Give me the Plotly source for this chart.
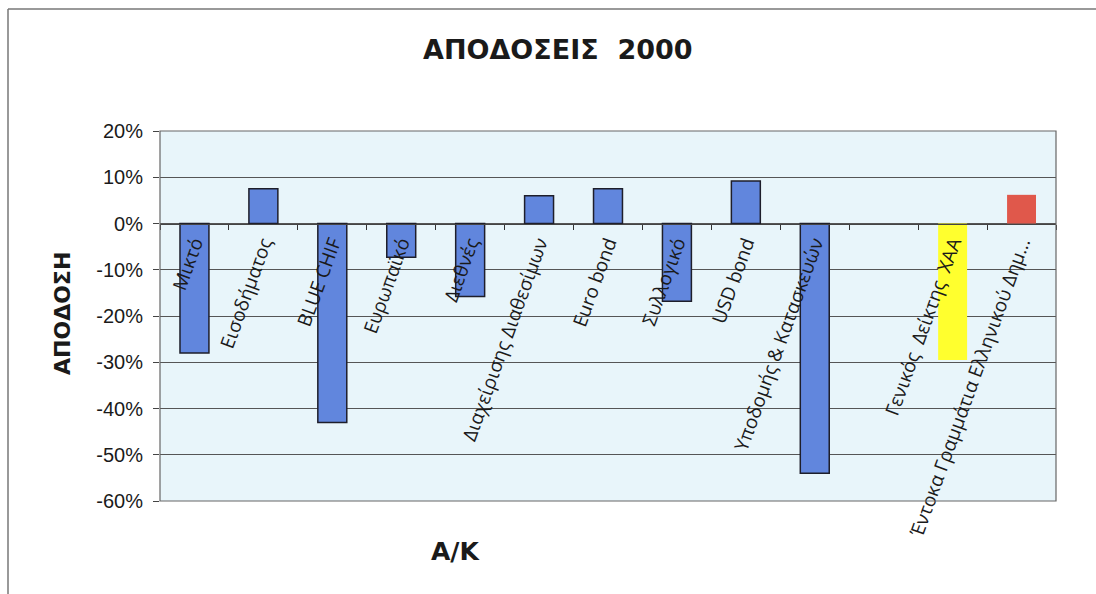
import plotly.graph_objects as go

NB = "\u00a0"
categories = [
    "Μικτό", "Εισοδήματος", "BLUE CHIF", "Ευρωπαϊκό", "Διεθνές",
    "Διαχείρισης Διαθεσίμων", "Euro bond", "Συλλογικό", "USD bond",
    "Υποδομής & Κατασκευών", " ", "Γενικός" + NB + NB + "Δείκτης" + NB + NB + "ΧΑΑ",
    "Έντοκα Γραμμάτια Ελληνικού Δημ...",
]
returns_pct = [-28, 7.5, -43, -7.3, -15.8, 6, 7.5, -16.8, 9.2, -54, None, -29.5, 6.2]
bar_colors = ["#6186dd"] * 11 + ["#ffff2e", "#e0584b"]
outline_widths = [1.5] * 11 + [0, 0]

y_tickvals = [-60, -50, -40, -30, -20, -10, 0, 10, 20]
y_ticktext = ["-60%", "-50%", "-40%", "-30%", "-20%", "-10%", "0%", "10%", "20%"]

fig = go.Figure()
fig.add_trace(go.Bar(
    x=categories, y=returns_pct, width=0.42,
    marker=dict(color=bar_colors, line=dict(color="#1e1e2a", width=outline_widths)),
    showlegend=False, hoverinfo="x+y",
))

ymin, ymax = -60, 20
zero_pos = (0 - ymin) / (ymax - ymin)

fig.update_layout(
    width=1096, height=594,
    margin=dict(l=160, r=40, t=131, b=93, autoexpand=False),
    paper_bgcolor="white",
    plot_bgcolor="#e8f5fa",
    xaxis=dict(
        type="category", categoryorder="array", categoryarray=categories,
        anchor="free", position=zero_pos,
        tickson="boundaries", ticks="outside", ticklen=5, tickcolor="#333",
        tickangle=-70, tickfont=dict(family="Open Sans", size=19, color="#1a1a1a"),
        showline=True, linecolor="#444", linewidth=1,
        showgrid=False, automargin=False,
    ),
    yaxis=dict(
        range=[ymin, ymax], tickvals=y_tickvals, ticktext=y_ticktext,
        ticks="outside", ticklen=6, tickcolor="#444",
        tickfont=dict(family="Liberation Sans", size=20, color="#1a1a1a"),
        showgrid=True, gridcolor="#555555", gridwidth=1.3,
        zeroline=False, showline=False, automargin=False,
        ticklabelstandoff=6,
    ),
    shapes=[
        dict(type="rect", xref="paper", yref="paper", x0=0, x1=1, y0=0, y1=1,
             line=dict(color="#666", width=1.2), layer="above"),
        dict(type="line", xref="paper", yref="paper", x0=(8 - 160) / 896, x1=(1096 - 160) / 896,
             y0=(501 - 9) / 370, y1=(501 - 9) / 370, line=dict(color="#777", width=1.5)),
        dict(type="line", xref="paper", yref="paper", x0=(8 - 160) / 896, x1=(8 - 160) / 896,
             y0=(501 - 9) / 370, y1=(501 - 594) / 370, line=dict(color="#777", width=1.5)),
    ],
    annotations=[
        dict(text="<b>ΑΠΟΔΟΣΕΙΣ" + NB + NB + "2000</b>", xref="paper", yref="paper",
             x=(558 - 160) / 896, y=(501 - 49) / 370, xanchor="center", yanchor="middle",
             showarrow=False, font=dict(family="DejaVu Sans", size=27, color="#1a1a1a")),
        dict(text="<b>ΑΠΟΔΟΣΗ</b>", xref="paper", yref="paper",
             x=(62 - 160) / 896, y=(501 - 314) / 370, xanchor="center", yanchor="middle",
             textangle=-90, showarrow=False,
             font=dict(family="DejaVu Sans", size=22, color="#1a1a1a")),
        dict(text="<b>Α/Κ</b>", xref="paper", yref="paper",
             x=(455 - 160) / 896, y=(501 - 551) / 370, xanchor="center", yanchor="middle",
             showarrow=False, font=dict(family="DejaVu Sans", size=25, color="#1a1a1a")),
    ],
)

fig.write_html("out.html")
